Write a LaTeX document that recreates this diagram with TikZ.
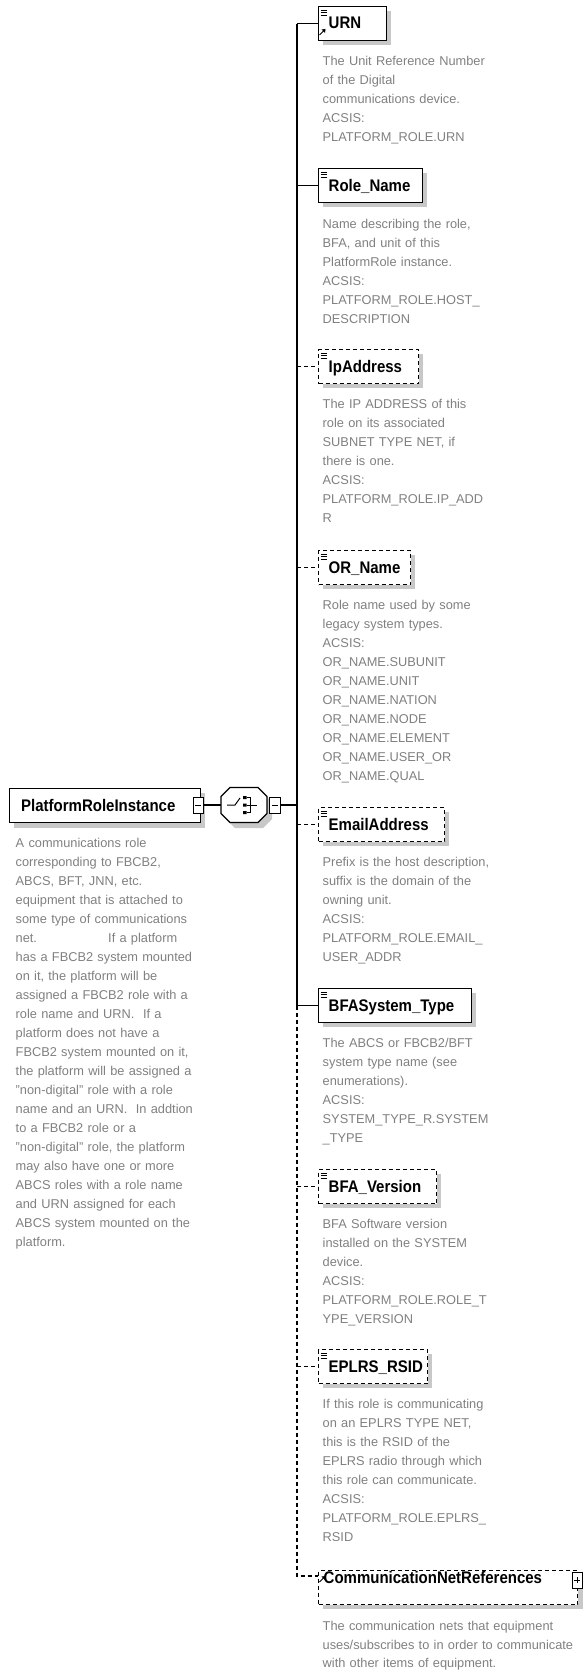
\documentclass[tikz,border=0pt]{standalone}
\usepackage{fontspec}
\setmainfont{Liberation Sans}
\definecolor{desctext}{RGB}{128,128,128}
\definecolor{shadowgray}{RGB}{200,200,200}
\tikzset{
  wire/.style={line width=1.2pt},
  optwire/.style={line width=1.2pt, dash pattern=on 4pt off 3pt},
  elbox/.style={draw, line width=1.2pt, fill=white, inner sep=0pt, minimum height=34pt, anchor=north west},
  optbox/.style={elbox, dash pattern=on 4pt off 3pt},
  shadowbox/.style={fill=shadowgray},
  title/.style={font=\bfseries\fontsize{15}{18}\selectfont, inner sep=0pt, anchor=base west},
  desc/.style={font=\fontsize{12.8}{19}\selectfont, text=desctext, inner sep=0pt, anchor=base west, text width=262pt, align=left},
  pmbox/.style={draw, line width=1pt, fill=white, inner sep=0pt, minimum width=10pt, minimum height=16pt},
}
% element box with drop shadow and bold title
\newcommand\xsdelement[6]{% name, x, top, width, box style, title
  \fill[shadowbox] (#2+5,#3+5) rectangle (#2+#4+5,#3+39);
  \node[#5, minimum width=#4pt] (#1) at (#2,#3) {};
  \node[title] (#1-title) at (#2+10.5,#3+23) {\scalebox{1}[1.12]{#6}};
}
% small "simple content" mark in the upper left corner of a box
\newcommand\contentmark[2]{% x, top
  \draw[line width=0.9pt] (#1+2.5,#2+4) -- ++(6.5,0)
                          (#1+2.5,#2+6.5) -- ++(6.5,0)
                          (#1+2.5,#2+9) -- ++(6.5,0);
}
% small reference arrow
\newcommand\refarrow[2]{% x, y of the arrow foot
  \draw[line width=1pt] (#1,#2) -- ++(4,-4);
  \fill (#1+6,#2-6) -- ++(-4,0.5) -- ++(3.5,3.5) -- cycle;
}
\begin{document}
\begin{tikzpicture}[x=1pt,y=-1pt]
\useasboundingbox (0,0) rectangle (585,1670);

% ---------- root element ----------
\fill[shadowbox] (14,793) rectangle (205,828);
\node[elbox, minimum width=191pt] (pri) at (9,788) {};
\node[title] (pri-title) at (21,811) {\scalebox{1}[1.12]{PlatformRoleInstance}};
\node[pmbox] (pri-m) at (198,805) {};
\draw[line width=1pt] (195,805) -- (201,805);

% ---------- sequence compositor ----------
\node[minimum width=46pt, minimum height=35pt, inner sep=0pt] (seq) at (244,805) {};
\fill[shadowbox] (235,793) -- (263,793) -- (272,802) -- (272,819) -- (263,828) -- (235,828) -- (226,819) -- (226,802) -- cycle;
\draw[line width=1.2pt, fill=white] (230,787.5) -- (258,787.5) -- (267,796.5) -- (267,813.5) -- (258,822.5) -- (230,822.5) -- (221,813.5) -- (221,796.5) -- cycle;
\draw[line width=1pt] (227,805) -- (235,805) -- (240,798);
\fill (243,796) rectangle ++(3.5,3) (243,803.5) rectangle ++(3.5,3) (243,811) rectangle ++(3.5,3);
\draw[line width=1pt] (246.5,797.5) -- (250,797.5) -- (250,812.5) -- (246.5,812.5) (246.5,805) -- (257,805);
\node[pmbox, minimum width=11pt] (seq-m) at (275,805) {};
\draw[line width=1pt] (272,805) -- (278,805);
\draw[wire] (pri-m.east) -- (seq.west);
\coordinate (bus) at (297,805);
\draw[wire] (seq-m.east) -- (bus);

% ---------- child elements ----------
\xsdelement{urn}{318}{6}{68}{elbox}{URN}
\contentmark{318}{6}
\refarrow{319.5}{35}

\xsdelement{rolename}{318}{168}{104}{elbox}{Role\_Name}
\contentmark{318}{168}

\xsdelement{ipaddr}{318}{349}{100}{optbox}{IpAddress}
\contentmark{318}{349}

\xsdelement{orname}{318}{550}{92}{optbox}{OR\_Name}
\contentmark{318}{550}

\xsdelement{email}{318}{807}{126}{optbox}{EmailAddress}
\contentmark{318}{807}

\xsdelement{bfasys}{318}{988}{153}{elbox}{BFASystem\_Type}
\contentmark{318}{988}

\xsdelement{bfaver}{318}{1169}{118}{optbox}{BFA\_Version}
\contentmark{318}{1169}

\xsdelement{eplrs}{318}{1349}{109}{optbox}{EPLRS\_RSID}
\contentmark{318}{1349}

% reference with children
\fill[shadowbox] (323,1575) rectangle (583,1609);
\node[optbox, minimum width=259pt] (cnr) at (318,1570) {};
\node[title] (cnr-title) at (323.5,1583) {\scalebox{1}[1.12]{CommunicationNetReferences}};
\refarrow{319.5}{1582}
\node[pmbox] (cnr-p) at (577,1580) {};
\draw[line width=1pt] (574,1580) -- (580,1580) (577,1577) -- (577,1583);
\coordinate (cnr-link) at (318,1576);

% ---------- connectors ----------
\draw[wire] (urn.west -| bus) -- (bfasys.west -| bus);
\draw[optwire] (bfasys.west -| bus) -- (cnr-link -| bus) -- (cnr-link);
\draw[wire] (urn.west -| bus) -- (urn.west);
\draw[wire] (rolename.west -| bus) -- (rolename.west);
\draw[optwire] (ipaddr.west -| bus) -- (ipaddr.west);
\draw[optwire] (orname.west -| bus) -- (orname.west);
\draw[optwire] (email.west -| bus) -- (email.west);
\draw[wire] (bfasys.west -| bus) -- (bfasys.west);
\draw[optwire] (bfaver.west -| bus) -- (bfaver.west);
\draw[optwire] (eplrs.west -| bus) -- (eplrs.west);

% ---------- annotations ----------
\node[desc] (pri-desc) at (15.5,847.5) {A communications role\\
corresponding to FBCB2,\\
ABCS, BFT, JNN, etc.\\
equipment that is attached to\\
some type of communications\\
\makebox[92.5pt][l]{net.}If a platform\\
has a FBCB2 system mounted\\
on it, the platform will be\\
assigned a FBCB2 role with a\\
role name and URN. \ If a\\
platform does not have a\\
FBCB2 system mounted on it,\\
the platform will be assigned a\\
"non-digital" role with a role\\
name and an URN. \ In addtion\\
to a FBCB2 role or a\\
"non-digital" role, the platform\\
may also have one or more\\
ABCS roles with a role name\\
and URN assigned for each\\
ABCS system mounted on the\\
platform.};

\node[desc] (urn-desc) at (322.5,65.5) {The Unit Reference Number\\
of the Digital\\
communications device.\\
ACSIS:\\
PLATFORM\_ROLE.URN};

\node[desc] (rolename-desc) at (322.5,228.5) {Name describing the role,\\
BFA, and unit of this\\
PlatformRole instance.\\
ACSIS:\\
PLATFORM\_ROLE.HOST\_\\
DESCRIPTION};

\node[desc] (ipaddr-desc) at (322.5,408.5) {The IP ADDRESS of this\\
role on its associated\\
SUBNET TYPE NET, if\\
there is one.\\
ACSIS:\\
PLATFORM\_ROLE.IP\_ADD\\
R};

\node[desc] (orname-desc) at (322.5,609.5) {Role name used by some\\
legacy system types.\\
ACSIS:\\
OR\_NAME.SUBUNIT\\
OR\_NAME.UNIT\\
OR\_NAME.NATION\\
OR\_NAME.NODE\\
OR\_NAME.ELEMENT\\
OR\_NAME.USER\_OR\\
OR\_NAME.QUAL};

\node[desc] (email-desc) at (322.5,866.5) {Prefix is the host description,\\
suffix is the domain of the\\
owning unit.\\
ACSIS:\\
PLATFORM\_ROLE.EMAIL\_\\
USER\_ADDR};

\node[desc] (bfasys-desc) at (322.5,1047.5) {The ABCS or FBCB2/BFT\\
system type name (see\\
enumerations).\\
ACSIS:\\
SYSTEM\_TYPE\_R.SYSTEM\\
\_TYPE};

\node[desc] (bfaver-desc) at (322.5,1228.5) {BFA Software version\\
installed on the SYSTEM\\
device.\\
ACSIS:\\
PLATFORM\_ROLE.ROLE\_T\\
YPE\_VERSION};

\node[desc] (eplrs-desc) at (322.5,1408.5) {If this role is communicating\\
on an EPLRS TYPE NET,\\
this is the RSID of the\\
EPLRS radio through which\\
this role can communicate.\\
ACSIS:\\
PLATFORM\_ROLE.EPLRS\_\\
RSID};

\node[desc, font=\fontsize{12.8}{18.5}\selectfont] (cnr-desc) at (322.5,1630.5) {The communication nets that equipment\\
uses/subscribes to in order to communicate\\
with other items of equipment.};
\end{tikzpicture}
\end{document}
